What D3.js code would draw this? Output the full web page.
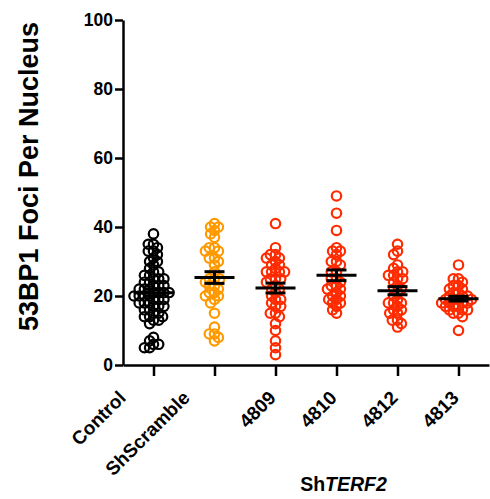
<!DOCTYPE html>
<html>
<head>
<meta charset="utf-8">
<script src="https://cdn.jsdelivr.net/npm/d3@7"></script>
<style>
  body { margin: 0; background: #ffffff; }
  text { font-family: "Liberation Sans", Arial, Helvetica, sans-serif; font-weight: bold; fill: #000; }
</style>
</head>
<body>
<svg id="chart" width="490" height="499"></svg>
<script>
// Groups along the x axis
const groups = ["Control", "ShScramble", "4809", "4810", "4812", "4813"];

// 53BP1 foci counted per nucleus, one entry per nucleus
const control    = [38,35,35,34,33,33,32,31,30,30,29,28,27,27,26,26,25,25,25,24,24,23,23,23,22,22,22,21,21,21,
                    21,20,20,20,20,19,19,19,18,18,18,17,17,17,16,16,15,15,14,14,14,13,13,12,8,7,6,6,5,5];
const shScramble = [41,40,40,39,38,37,34,34,33,33,31,31,30,29,27,25,25,25,24,23,23,22,21,21,20,20,19,18,15,11,9,9,8,7];
const sh4809     = [41,34,32,32,31,31,30,29,29,28,27,27,27,27,25,25,25,24,23,22,22,21,20,19,19,18,17,17,15,15,14,12,10,7,5,3];
const sh4810     = [49,44,39,34,33,33,32,30,30,29,27,27,25,25,24,23,23,22,22,21,20,20,19,19,18,18,17,16,15];
const sh4812     = [35,33,32,29,28,27,27,26,26,25,25,24,23,22,22,21,20,19,18,18,18,17,16,16,15,15,13,13,12,11];
const sh4813     = [29,25,25,24,23,23,22,22,21,21,20,20,20,19,19,19,19,18,18,18,18,17,17,17,16,16,16,15,15,14,10];

const yTicks = [0, 20, 40, 60, 80, 100];

const seriesValues = [control, shScramble, sh4809, sh4810, sh4812, sh4813];

// Marker colours per group
const colors = ["#000000", "#FF9900", "#FF2B00", "#FF2B00", "#FF2B00", "#FF2B00"];
// Shift of the rotated labels along x (the two long names sit further left)
const labelShift = { "Control": -27, "ShScramble": -24 };

const svg = d3.select("#chart");

const x = d3.scalePoint().domain(groups).range([123, 489]).padding(0.5);
const y = d3.scaleLinear().domain([0, 100]).range([365, 20]);

// Y axis
const yAxis = svg.append("g")
  .attr("transform", "translate(123,0)")
  .call(d3.axisLeft(y).tickValues(yTicks).tickSize(8).tickSizeOuter(0).tickPadding(2));
yAxis.select(".domain").attr("stroke", "#000").attr("stroke-width", 2.5);
yAxis.selectAll(".tick line").attr("stroke", "#000").attr("stroke-width", 2.5);
yAxis.selectAll(".tick text")
  .style("font-size", "17.5px").style("font-weight", "bold")
  .style("font-family", "'Liberation Sans', Arial, sans-serif");

// X axis
const xAxis = svg.append("g")
  .attr("transform", "translate(0,365)")
  .call(d3.axisBottom(x).tickSize(11).tickSizeOuter(0));
xAxis.select(".domain").attr("stroke", "#000").attr("stroke-width", 2.5);
xAxis.selectAll(".tick line").attr("stroke", "#000").attr("stroke-width", 2.5);
xAxis.selectAll(".tick text").remove();
xAxis.selectAll(".tick").append("text")
  .attr("text-anchor", "end")
  .attr("transform", d => `translate(${(labelShift[d] || 1)},34) rotate(-45)`)
  .style("font-size", "19px")
  .text(d => d);

// Y axis title
svg.append("text")
  .attr("transform", "translate(38,176.5) rotate(-90)")
  .attr("text-anchor", "middle")
  .style("font-size", "27px")
  .text("53BP1 Foci Per Nucleus");

// Group title under the knock-down lines
const sub = svg.append("text")
  .attr("x", 343.5).attr("y", 491)
  .attr("text-anchor", "middle")
  .style("font-size", "19.5px");
sub.append("tspan").text("Sh");
sub.append("tspan").style("font-style", "italic").text("TERF2");

// Simple deterministic beeswarm: each point takes the closest free offset to the centre
function swarm(values, minDist) {
  const pts = values.map(v => ({ v, py: y(v) })).sort((a, b) => d3.descending(a.v, b.v));
  const placed = [];
  const d2 = minDist * minDist;
  for (const p of pts) {
    const cands = [0];
    for (const q of placed) {
      const dy = Math.abs(q.py - p.py);
      if (dy < minDist) {
        const dx = Math.sqrt(d2 - dy * dy);
        cands.push(q.dx + dx, q.dx - dx);
      }
    }
    cands.sort((a, b) => Math.abs(a) - Math.abs(b) || a - b);
    let chosen = cands[cands.length - 1];
    for (const c of cands) {
      if (placed.every(q => (q.dx - c) ** 2 + (q.py - p.py) ** 2 >= d2 - 1e-6)) { chosen = c; break; }
    }
    p.dx = chosen;
    placed.push(p);
  }
  return placed;
}

groups.forEach((g, i) => {
  const vals = seriesValues[i];
  const cx = x(g);
  const pts = swarm(vals, 5.2);
  svg.append("g").selectAll("circle").data(pts).join("circle")
    .attr("cx", d => cx + d.dx)
    .attr("cy", d => d.py)
    .attr("r", 4.7)
    .attr("fill", "none")
    .attr("stroke", colors[i])
    .attr("stroke-width", 2.2);
});

// Mean ± SEM bars drawn above the points
groups.forEach((g, i) => {
  const vals = seriesValues[i];
  const cx = x(g);
  const m = d3.mean(vals);
  const sem = d3.deviation(vals) / Math.sqrt(vals.length);
  const bar = svg.append("g").attr("stroke", "#000").attr("stroke-width", 3).attr("fill", "none");
  bar.append("line").attr("x1", cx - 20).attr("x2", cx + 20).attr("y1", y(m)).attr("y2", y(m));
  bar.append("line").attr("x1", cx).attr("x2", cx).attr("y1", y(m - sem)).attr("y2", y(m + sem));
  bar.append("line").attr("x1", cx - 10).attr("x2", cx + 10).attr("y1", y(m + sem)).attr("y2", y(m + sem));
  bar.append("line").attr("x1", cx - 10).attr("x2", cx + 10).attr("y1", y(m - sem)).attr("y2", y(m - sem));
});
</script>
</body>
</html>
